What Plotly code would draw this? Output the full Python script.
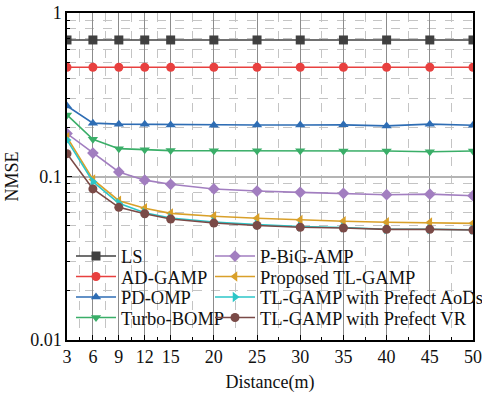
import plotly.graph_objects as go

distance = [3, 6, 9, 12, 15, 20, 25, 30, 35, 40, 45, 50]

ls_vals = [0.684, 0.684, 0.684, 0.684, 0.684, 0.684, 0.684, 0.684, 0.684, 0.684, 0.684, 0.684]
ad_gamp = [0.466, 0.466, 0.466, 0.466, 0.465, 0.466, 0.465, 0.466, 0.466, 0.466, 0.466, 0.466]
pd_omp = [0.27, 0.212, 0.209, 0.2085, 0.2065, 0.206, 0.2065, 0.2065, 0.207, 0.204, 0.209, 0.206]
turbo_bomp = [0.238, 0.169, 0.148, 0.1457, 0.144, 0.1437, 0.1437, 0.1437, 0.1432, 0.1432, 0.1418, 0.1432]
p_bigamp = [0.183, 0.139, 0.1066, 0.095, 0.0896, 0.0839, 0.0815, 0.080, 0.0789, 0.0774, 0.078, 0.0763]
proposed = [0.174, 0.096, 0.0711, 0.0639, 0.0595, 0.0571, 0.0555, 0.0542, 0.0532, 0.0525, 0.0523, 0.0517]
perfect_aods = [0.167, 0.093, 0.0686, 0.0600, 0.0557, 0.0527, 0.0508, 0.0494, 0.0488, 0.0476, 0.0476, 0.0472]
perfect_vr = [0.138, 0.084, 0.0648, 0.0592, 0.0550, 0.0519, 0.0502, 0.0489, 0.0484, 0.0475, 0.0475, 0.0471]

series_names = ["LS", "AD-GAMP", "PD-OMP", "Turbo-BOMP", "P-BiG-AMP",
                "Proposed TL-GAMP", "TL-GAMP with Prefect AoDs", "TL-GAMP with Prefect VR"]
series_values = [ls_vals, ad_gamp, pd_omp, turbo_bomp, p_bigamp, proposed, perfect_aods, perfect_vr]
colors = ["#404040", "#e8403f", "#2e6db4", "#3aae68", "#a27ec0", "#d9a02a", "#2cc6c8", "#7a4a47"]
symbols = ["square", "circle", "triangle-up", "triangle-down", "diamond",
           "triangle-left", "triangle-right", "circle"]

x_ticks = [3, 6, 9, 12, 15, 20, 25, 30, 35, 40, 45, 50]
x_minor = [4.5, 7.5, 10.5, 13.5, 17.5, 22.5, 27.5, 32.5, 37.5, 42.5, 47.5]
y_ticks = [0.01, 0.1, 1]
y_ticktext = ["0.01", "0.1", "1"]
y_minor = [m * d for d in (0.01, 0.1) for m in range(2, 10)]

FONT = "Liberation Serif"

# plot area in pixels (figure 482x393)
L, R, T, B = 67, 473, 13, 340
W, H = 482, 393
row_y = [256.5, 277, 297.5, 318]
col_x = [71, 210]

fig = go.Figure()
legends = {}
for i, (name, vals) in enumerate(zip(series_names, series_values)):
    key = "legend" if i == 0 else f"legend{i + 1}"
    fig.add_trace(go.Scatter(
        x=distance, y=vals, name=name, mode="lines+markers",
        line=dict(color=colors[i], width=1.6),
        marker=dict(symbol=symbols[i], size=9, color=colors[i]),
        legend=key,
    ))
    cx = col_x[i // 4]
    cy = row_y[i % 4]
    legends[key] = dict(
        x=(cx - L) / (R - L), y=(B - cy) / (B - T),
        xanchor="left", yanchor="middle",
        bgcolor="rgba(0,0,0,0)", borderwidth=0, itemwidth=40,
        font=dict(family=FONT, size=18.5, color="#111"),
        itemclick=False, itemdoubleclick=False,
    )

fig.update_layout(
    width=W, height=H,
    margin=dict(l=L, r=W - R, t=T, b=H - B, autoexpand=False),
    paper_bgcolor="white", plot_bgcolor="white",
    font=dict(family=FONT, size=18, color="#111"),
    showlegend=True,
    xaxis=dict(
        range=[3, 50], tickmode="array", tickvals=x_ticks, automargin=False,
        ticks="inside", ticklen=5, tickcolor="black", tickwidth=1,
        showline=True, linecolor="black", linewidth=1.5, mirror=True,
        showgrid=True, gridcolor="#8c8c8c", gridwidth=1,
        zeroline=False,
        tickfont=dict(family=FONT, size=18),
        title=dict(text="Distance(m)", font=dict(family=FONT, size=18), standoff=19),
        minor=dict(tickmode="array", tickvals=x_minor, ticks="inside", ticklen=3,
                   tickcolor="black", showgrid=True, gridcolor="#c4c4c4",
                   griddash="dash", gridwidth=1),
    ),
    yaxis=dict(
        type="log", range=[-2, 0], tickmode="array", tickvals=y_ticks, ticktext=y_ticktext,
        automargin=False,
        ticks="inside", ticklen=5, tickcolor="black", tickwidth=1,
        showline=True, linecolor="black", linewidth=1.5, mirror=True,
        showgrid=True, gridcolor="#b4b4b4", gridwidth=2,
        zeroline=False,
        tickfont=dict(family=FONT, size=18),
        title=dict(text="NMSE", font=dict(family=FONT, size=18), standoff=7),
        minor=dict(tickmode="array", tickvals=y_minor, ticks="inside", ticklen=3,
                   tickcolor="black", showgrid=True, gridcolor="#c4c4c4",
                   griddash="dash", gridwidth=1),
    ),
    **legends,
)

fig.write_html("out.html", config={"displayModeBar": False},
               post_script="document.body.style.margin='0';")
